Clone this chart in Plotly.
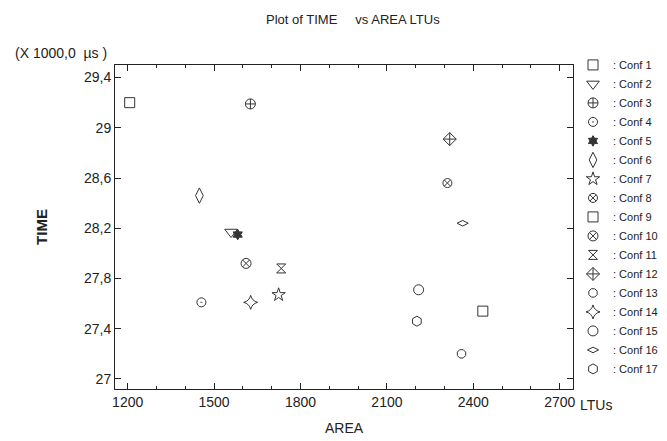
import plotly.graph_objects as go

conf_names = [": Conf 1", ": Conf 2", ": Conf 3", ": Conf 4", ": Conf 5", ": Conf 6",
              ": Conf 7", ": Conf 8", ": Conf 9", ": Conf 10", ": Conf 11", ": Conf 12",
              ": Conf 13", ": Conf 14", ": Conf 15", ": Conf 16", ": Conf 17"]
area = [1207, 1559, 1626, 1456, 1582, 1449, 1724, 2310, 2433, 1611, 1733, 2318,
        2359, 1627, 2210, 2363, 2204]
time_k = [29.20, 28.17, 29.19, 27.61, 28.15, 28.46, 27.67, 28.56, 27.54, 27.92, 27.88, 28.91,
          27.20, 27.61, 27.71, 28.24, 27.46]
symbols = ["square-open", "triangle-down-open", "circle-cross-open", "circle-open-dot",
           "hexagram", "diamond-tall-open", "star-open", "circle-x-open", "square-open",
           "circle-x-open", "hourglass-open", "diamond-cross-open", "octagon-open",
           "star-diamond-open", "circle-open", "diamond-wide-open", "hexagon-open"]
sizes = [10, 11, 10, 9, 8, 11, 10, 9, 10, 10, 9, 10, 9, 10, 10, 8, 10]

x_ticks = [1200, 1500, 1800, 2100, 2400, 2700]
x_ticktext = ["1200", "1500", "1800", "2100", "2400", "2700"]
y_ticks = [27.0, 27.4, 27.8, 28.2, 28.6, 29.0, 29.4]
y_ticktext = ["27", "27,4", "27,8", "28,2", "28,6", "29", "29,4"]

FONT = "Liberation Sans Narrow, Arial Narrow, Liberation Sans, Arial, sans-serif"
INK = "#333333"

fig = go.Figure()
for n, xv, yv, s, sz in zip(conf_names, area, time_k, symbols, sizes):
    fig.add_trace(go.Scatter(
        x=[xv], y=[yv], mode="markers", name=n,
        marker=dict(symbol=s, size=sz, color=INK, line=dict(color=INK, width=1)),
    ))

fig.update_layout(
    width=667, height=441,
    margin=dict(l=107, r=79, t=57, b=60),
    paper_bgcolor="white", plot_bgcolor="white",
    font=dict(family=FONT, color="#222222", size=13),
    title=dict(text="Plot of TIME&nbsp;&nbsp;&nbsp;&nbsp;&nbsp;vs AREA LTUs", x=0.517, xanchor="center",
               y=0.975, yanchor="middle", font=dict(size=13, family=FONT, color="#222222")),
    showlegend=True,
    legend=dict(x=1.0, xanchor="left", y=1.045, yanchor="top", maxheight=1000,
                font=dict(size=11, family=FONT, color="#222222"),
                itemwidth=30, tracegroupgap=0, bgcolor="rgba(0,0,0,0)"),
    xaxis=dict(range=[1156, 2746], tickvals=x_ticks, ticktext=x_ticktext,
               ticks="inside", ticklen=6, tickcolor="#222", showline=True, linecolor="#222",
               linewidth=1, mirror="ticks", showgrid=False, zeroline=False,
               tickfont=dict(size=14, family=FONT),
               minor=dict(dtick=100, ticks="inside", ticklen=3, tickcolor="#222"),
               title=dict(text="AREA", font=dict(size=14, family=FONT), standoff=14)),
    yaxis=dict(range=[26.92, 29.5], tickvals=y_ticks, ticktext=y_ticktext,
               ticks="inside", ticklen=6, tickcolor="#222", showline=True, linecolor="#222",
               linewidth=1, mirror="ticks", showgrid=False, zeroline=False,
               tickfont=dict(size=14, family=FONT),
               title=dict(text="<b>TIME</b>", font=dict(size=15, family=FONT), standoff=32)),
)

fig.add_annotation(text="LTUs", xref="x", yref="paper", x=2700, y=0, xanchor="left",
                   yanchor="top", xshift=18, yshift=-6, showarrow=False,
                   font=dict(size=14, family=FONT, color="#222222"))
fig.add_annotation(text="(X 1000,0  µs )", xref="paper", yref="paper", x=-0.222, y=1.0,
                   xanchor="left", yanchor="bottom", xshift=0, yshift=2, showarrow=False,
                   font=dict(size=14, family=FONT, color="#222222"))

fig.write_html("out.html")
